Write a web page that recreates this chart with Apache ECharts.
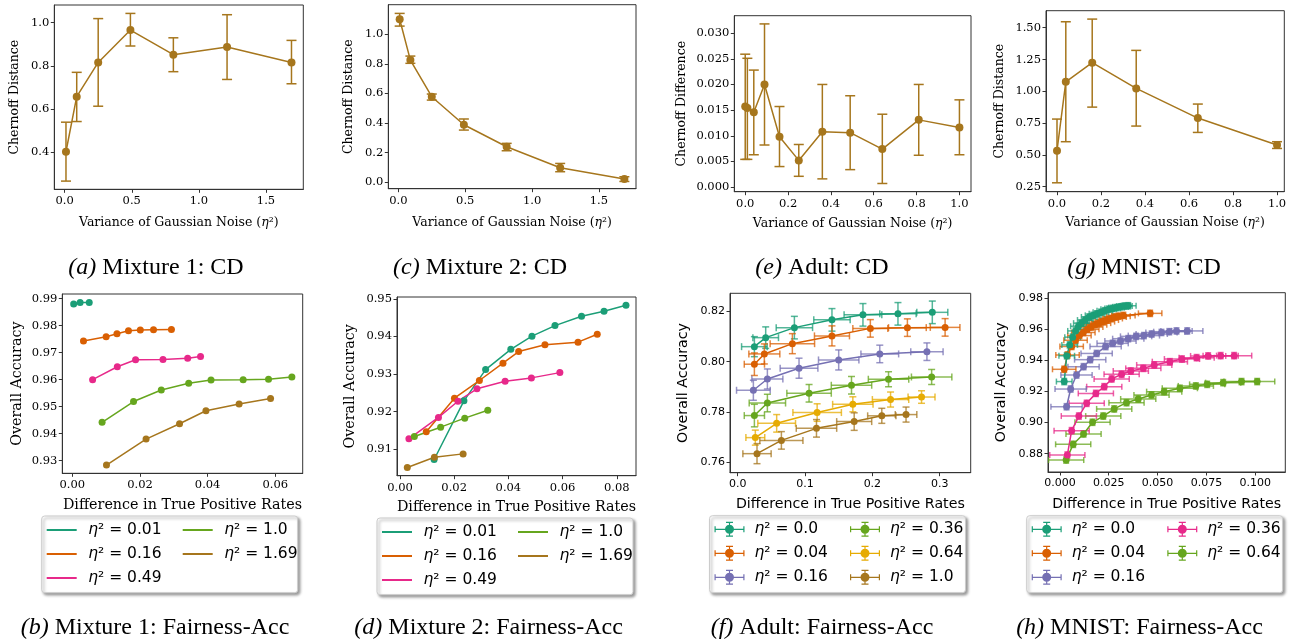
<!DOCTYPE html>
<html>
<head>
<meta charset="utf-8">
<script src="https://cdn.jsdelivr.net/npm/echarts@6/dist/echarts.min.js"></script>
<style>
html, body { margin: 0; padding: 0; background: #fff; }
#main { width: 1293px; height: 643px; }
</style>
</head>
<body>
<div id="main"></div>
<script>
// 颜色 (Dark2)
var TEAL = '#1b9e77', ORANGE = '#d95f02', PURPLE = '#7570b3', PINK = '#e7298a',
    GREEN = '#66a61e', YELLOW = '#e6ab02', BROWN = '#a6761d';

// (a) Mixture 1: CD
var aX = [0.01, 0.09, 0.25, 0.49, 0.81, 1.21, 1.69];
var aY = [0.402, 0.657, 0.816, 0.966, 0.852, 0.887, 0.816];
var aLo = [0.266, 0.542, 0.613, 0.892, 0.773, 0.737, 0.717];
var aHi = [0.539, 0.770, 1.019, 1.043, 0.930, 1.037, 0.918];

// (c) Mixture 2: CD
var cX = [0.01, 0.09, 0.25, 0.49, 0.81, 1.21, 1.69];
var cY = [1.102, 0.826, 0.578, 0.388, 0.239, 0.097, 0.020];
var cLo = [1.056, 0.804, 0.555, 0.352, 0.212, 0.070, 0.004];
var cHi = [1.142, 0.853, 0.596, 0.427, 0.262, 0.126, 0.036];

// (e) Adult: CD
var eX = [0, 0.01, 0.04, 0.09, 0.16, 0.25, 0.36, 0.49, 0.64, 0.81, 1.0];
var eY = [0.0157, 0.0154, 0.0146, 0.0200, 0.0098, 0.0052, 0.0108, 0.0106, 0.0074, 0.0131, 0.0116];
var eLo = [0.0054, 0.0054, 0.0063, 0.0082, 0.0040, 0.0021, 0.0016, 0.0034, 0.0007, 0.0062, 0.0063];
var eHi = [0.0259, 0.0251, 0.0228, 0.0318, 0.0157, 0.0083, 0.0200, 0.0178, 0.0142, 0.0200, 0.0170];

// (g) MNIST: CD
var gX = [0, 0.04, 0.16, 0.36, 0.64, 1.0];
var gY = [0.533, 1.075, 1.225, 1.023, 0.790, 0.578];
var gLo = [0.281, 0.604, 0.876, 0.727, 0.677, 0.551];
var gHi = [0.782, 1.547, 1.568, 1.322, 0.900, 0.604];

// (b) Mixture 1: Fairness-Acc
var bTealX = [0.0004, 0.0023, 0.0050];
var bTealY = [0.9880, 0.9886, 0.9886];
var bOrangeX = [0.0033, 0.0100, 0.0132, 0.0166, 0.0201, 0.0240, 0.0293];
var bOrangeY = [0.9743, 0.9759, 0.9770, 0.9781, 0.9784, 0.9785, 0.9786];
var bPinkX = [0.0060, 0.0133, 0.0187, 0.0268, 0.0341, 0.0379];
var bPinkY = [0.9600, 0.9648, 0.9674, 0.9675, 0.9679, 0.9686];
var bGreenX = [0.0088, 0.0181, 0.0263, 0.0344, 0.0410, 0.0505, 0.0580, 0.0649];
var bGreenY = [0.9442, 0.9519, 0.9562, 0.9587, 0.9599, 0.9600, 0.9602, 0.9610];
var bBrownX = [0.0101, 0.0218, 0.0317, 0.0395, 0.0493, 0.0586];
var bBrownY = [0.9284, 0.9380, 0.9437, 0.9485, 0.9510, 0.9530];

// (d) Mixture 2: Fairness-Acc
var dTealX = [0.0126, 0.0236, 0.0316, 0.0409, 0.0487, 0.0572, 0.0670, 0.0753, 0.0834];
var dTealY = [0.9073, 0.9229, 0.9312, 0.9366, 0.9401, 0.9429, 0.9454, 0.9467, 0.9483];
var dOrangeX = [0.0097, 0.0201, 0.0293, 0.0380, 0.0438, 0.0535, 0.0657, 0.0728];
var dOrangeY = [0.9147, 0.9236, 0.9283, 0.9329, 0.9360, 0.9378, 0.9385, 0.9406];
var dPinkX = [0.0033, 0.0142, 0.0214, 0.0284, 0.0388, 0.0485, 0.0590];
var dPinkY = [0.9128, 0.9185, 0.9228, 0.9261, 0.9281, 0.9290, 0.9304];
var dGreenX = [0.0053, 0.0150, 0.0239, 0.0324];
var dGreenY = [0.9134, 0.9159, 0.9183, 0.9204];
var dBrownX = [0.0027, 0.0127, 0.0233];
var dBrownY = [0.9052, 0.9079, 0.9088];

// (f) Adult: Fairness-Acc  (x, y, x误差, y误差)
var fTealX = [0.0248, 0.0416, 0.0842, 0.140, 0.186, 0.238, 0.289];
var fTealY = [0.8060, 0.8096, 0.8136, 0.8167, 0.8187, 0.8191, 0.8197];
var fTealXe = [0.019, 0.019, 0.027, 0.027, 0.028, 0.027, 0.023];
var fTealYe = [0.0040, 0.0043, 0.0045, 0.0045, 0.0045, 0.0045, 0.0045];
var fOrangeX = [0.0248, 0.0396, 0.0812, 0.140, 0.197, 0.252, 0.308];
var fOrangeY = [0.7990, 0.8031, 0.8072, 0.8103, 0.8133, 0.8136, 0.8137];
var fOrangeXe = [0.015, 0.023, 0.033, 0.026, 0.026, 0.028, 0.022];
var fOrangeYe = [0.0045, 0.0040, 0.0040, 0.0040, 0.0035, 0.0035, 0.0035];
var fPurpleX = [0.0233, 0.0441, 0.0911, 0.150, 0.211, 0.281];
var fPurpleY = [0.7886, 0.7931, 0.7974, 0.8007, 0.8031, 0.8040];
var fPurpleXe = [0.025, 0.023, 0.028, 0.030, 0.028, 0.024];
var fPurpleYe = [0.0040, 0.0040, 0.0040, 0.0040, 0.0035, 0.0035];
var fGreenX = [0.0248, 0.0441, 0.106, 0.169, 0.224, 0.288];
var fGreenY = [0.7785, 0.7835, 0.7874, 0.7906, 0.7930, 0.7939];
var fGreenXe = [0.015, 0.027, 0.033, 0.030, 0.030, 0.030];
var fGreenYe = [0.0045, 0.0035, 0.0035, 0.0035, 0.0030, 0.0030];
var fYellowX = [0.0262, 0.0579, 0.118, 0.171, 0.227, 0.273];
var fYellowY = [0.7697, 0.7754, 0.7797, 0.7830, 0.7849, 0.7859];
var fYellowXe = [0.014, 0.028, 0.036, 0.030, 0.027, 0.020];
var fYellowYe = [0.0030, 0.0035, 0.0035, 0.0030, 0.0030, 0.0025];
var fBrownX = [0.0287, 0.0649, 0.117, 0.173, 0.214, 0.250];
var fBrownY = [0.7633, 0.7686, 0.7734, 0.7761, 0.7784, 0.7789];
var fBrownXe = [0.021, 0.032, 0.030, 0.026, 0.021, 0.016];
var fBrownYe = [0.0040, 0.0035, 0.0035, 0.0035, 0.0030, 0.0030];

// (h) MNIST: Fairness-Acc
var hTealX = [0.0022, 0.0035, 0.005, 0.0065, 0.008, 0.0095, 0.011, 0.013, 0.015, 0.017, 0.019, 0.021, 0.023, 0.025, 0.027, 0.029, 0.031, 0.033, 0.035];
var hTealY = [0.9264, 0.943, 0.950, 0.955, 0.959, 0.962, 0.964, 0.966, 0.968, 0.969, 0.970, 0.971, 0.972, 0.973, 0.9735, 0.974, 0.9745, 0.975, 0.9752];
var hOrangeX = [0.0022, 0.0039, 0.006, 0.008, 0.010, 0.012, 0.014, 0.016, 0.018, 0.020, 0.022, 0.024, 0.026, 0.028, 0.030, 0.0325, 0.0462];
var hOrangeY = [0.9343, 0.9435, 0.949, 0.953, 0.956, 0.958, 0.960, 0.9615, 0.963, 0.964, 0.965, 0.966, 0.967, 0.968, 0.9685, 0.969, 0.9703];
var hPurpleX = [0.0034, 0.0055, 0.0085, 0.0121, 0.0155, 0.0188, 0.0234, 0.027, 0.031, 0.035, 0.039, 0.043, 0.047, 0.052, 0.056, 0.0597, 0.0652];
var hPurpleY = [0.9102, 0.9216, 0.9306, 0.9360, 0.9405, 0.9445, 0.9489, 0.951, 0.9525, 0.954, 0.9555, 0.956, 0.957, 0.958, 0.9585, 0.959, 0.959];
var hPinkX = [0.0038, 0.006, 0.0097, 0.0137, 0.0184, 0.0227, 0.0265, 0.0316, 0.0363, 0.0427, 0.0483, 0.0563, 0.0625, 0.0700, 0.0759, 0.0823, 0.0892];
var hPinkY = [0.8791, 0.8948, 0.9042, 0.9124, 0.9188, 0.9231, 0.9281, 0.9311, 0.9332, 0.9349, 0.9371, 0.9392, 0.9409, 0.9418, 0.9429, 0.9431, 0.9431];
var hGreenX = [0.0032, 0.0068, 0.0121, 0.0167, 0.0222, 0.0278, 0.0341, 0.0401, 0.0469, 0.0534, 0.0614, 0.0696, 0.0754, 0.0836, 0.0930, 0.1010];
var hGreenY = [0.8759, 0.8860, 0.8927, 0.9002, 0.9042, 0.9088, 0.9128, 0.9152, 0.9178, 0.9199, 0.9221, 0.9236, 0.9246, 0.9257, 0.9264, 0.9264];
// 每条曲线的误差半宽 [x, y]
var hErr = { teal: [0.004, 0.002], orange: [0.006, 0.002], purple: [0.008, 0.002], pink: [0.009, 0.002], green: [0.009, 0.002] };

// 刻度
var ticksA = { x: [0, 0.5, 1.0, 1.5], y: [0.4, 0.6, 0.8, 1.0] };
var ticksC = { x: [0, 0.5, 1.0, 1.5], y: [0, 0.2, 0.4, 0.6, 0.8, 1.0] };
var ticksE = { x: [0, 0.2, 0.4, 0.6, 0.8, 1.0], y: [0, 0.005, 0.010, 0.015, 0.020, 0.025, 0.030] };
var ticksG = { x: [0, 0.2, 0.4, 0.6, 0.8, 1.0], y: [0.25, 0.50, 0.75, 1.00, 1.25, 1.50] };
var ticksB = { x: [0, 0.02, 0.04, 0.06], y: [0.93, 0.94, 0.95, 0.96, 0.97, 0.98, 0.99] };
var ticksD = { x: [0, 0.02, 0.04, 0.06, 0.08], y: [0.91, 0.92, 0.93, 0.94, 0.95] };
var ticksF = { x: [0, 0.1, 0.2, 0.3], y: [0.76, 0.78, 0.80, 0.82] };
var ticksH = { x: [0, 0.025, 0.050, 0.075, 0.100], y: [0.88, 0.90, 0.92, 0.94, 0.96, 0.98] };

var SERIF = 'DejaVu Serif', SANS = 'DejaVu Sans';

function zip() {
  var cols = Array.prototype.slice.call(arguments);
  return cols[0].map(function (_, i) { return cols.map(function (c) { return c[i]; }); });
}

function mkAxis(idx, min, max, ticks, dec, name, nameGap, font, labelSize, nameSize, margin) {
  return {
    gridIndex: idx, type: 'value', min: min, max: max,
    name: name, nameLocation: 'middle', nameGap: nameGap,
    nameTextStyle: { fontFamily: font, fontSize: nameSize, color: '#000',
      rich: { e: { fontStyle: 'italic', fontFamily: font, fontSize: nameSize, color: '#000' } } },
    axisLine: { show: true, onZero: false, lineStyle: { color: '#333', width: 1 } },
    axisTick: { show: true, length: 3.5, customValues: ticks, lineStyle: { color: '#333', width: 1 } },
    axisLabel: { customValues: ticks, margin: margin, fontFamily: font, fontSize: labelSize, color: '#000',
      formatter: function (v) { return v.toFixed(dec); } },
    splitLine: { show: false }
  };
}

function lineSeries(idx, name, xs, ys, color, size) {
  return {
    type: 'line', name: name, xAxisIndex: idx, yAxisIndex: idx,
    data: zip(xs, ys), symbol: 'circle', symbolSize: size || 7,
    itemStyle: { color: color }, lineStyle: { color: color, width: 1.5 },
    z: 3, animation: false
  };
}

// 竖直误差棒
function vErrSeries(idx, xs, lo, hi, color, cap) {
  return {
    type: 'custom', xAxisIndex: idx, yAxisIndex: idx, silent: true, z: 2,
    data: zip(xs, lo, hi), encode: { x: 0, y: [1, 2] },
    renderItem: function (params, api) {
      var x = api.value(0);
      var p0 = api.coord([x, api.value(1)]), p1 = api.coord([x, api.value(2)]);
      var st = { stroke: color, lineWidth: 1.5 };
      return { type: 'group', children: [
        { type: 'line', shape: { x1: p0[0], y1: p0[1], x2: p1[0], y2: p1[1] }, style: st },
        { type: 'line', shape: { x1: p0[0] - cap, y1: p0[1], x2: p0[0] + cap, y2: p0[1] }, style: st },
        { type: 'line', shape: { x1: p1[0] - cap, y1: p1[1], x2: p1[0] + cap, y2: p1[1] }, style: st }
      ] };
    }
  };
}

// 双向误差棒
function xyErrSeries(idx, data, color, cap) {
  return {
    type: 'custom', xAxisIndex: idx, yAxisIndex: idx, silent: true, z: 2,
    data: data, encode: { x: 0, y: 1 },
    renderItem: function (params, api) {
      var x = api.value(0), y = api.value(1), dx = api.value(2), dy = api.value(3);
      var l = api.coord([x - dx, y]), r = api.coord([x + dx, y]);
      var b = api.coord([x, y - dy]), t = api.coord([x, y + dy]);
      var st = { stroke: color, lineWidth: 1.5, opacity: 0.75 };
      return { type: 'group', children: [
        { type: 'line', shape: { x1: l[0], y1: l[1], x2: r[0], y2: r[1] }, style: st },
        { type: 'line', shape: { x1: l[0], y1: l[1] - cap, x2: l[0], y2: l[1] + cap }, style: st },
        { type: 'line', shape: { x1: r[0], y1: r[1] - cap, x2: r[0], y2: r[1] + cap }, style: st },
        { type: 'line', shape: { x1: b[0], y1: b[1], x2: t[0], y2: t[1] }, style: st },
        { type: 'line', shape: { x1: b[0] - cap, y1: b[1], x2: b[0] + cap, y2: b[1] }, style: st },
        { type: 'line', shape: { x1: t[0] - cap, y1: t[1], x2: t[0] + cap, y2: t[1] }, style: st }
      ] };
    }
  };
}

function hData(xs, ys, err) {
  return xs.map(function (x, i) { return [x, ys[i], err[0], err[1]]; });
}

// 图例中误差棒样式的图标
var ERR_ICON = 'path://M0,6.9H30V8.1H0Z M0,4.5H1.2V10.5H0Z M28.8,4.5H30V10.5H28.8Z M14.4,0H15.6V15H14.4Z M11.5,0H18.5V1.2H11.5Z M11.5,13.8H18.5V15H11.5Z M10.5,7.5A4.5,4.5,0,1,1,19.5,7.5A4.5,4.5,0,1,1,10.5,7.5Z';

function mkLegend(names, left, top, icon, iw, ih, pad) {
  var fs = 15.5, lh = 17;
  return {
    orient: 'vertical', left: left, top: top, data: names, padding: 0,
    icon: icon, itemWidth: iw, itemHeight: ih, itemGap: 7, selectedMode: false, z: 5,
    formatter: function (n) { return '{e|η}{t|² = ' + n.split('|')[1] + '}'; },
    textStyle: { color: '#000', fontFamily: SANS, fontSize: fs, lineHeight: lh, padding: [0, 0, 0, pad],
      rich: { e: { fontStyle: 'italic', fontFamily: SANS, fontSize: fs, lineHeight: lh, color: '#000' },
              t: { fontFamily: SANS, fontSize: fs, lineHeight: lh, color: '#000' } } }
  };
}

function legendBox(x, y, w, h) {
  return { type: 'rect', z: 1, shape: { x: x, y: y, width: w, height: h, r: 3 },
    style: { fill: '#fff', stroke: '#cccccc', lineWidth: 1, shadowBlur: 3, shadowColor: 'rgba(0,0,0,0.4)', shadowOffsetX: 2, shadowOffsetY: 2 } };
}

function caption(x, y, tag, text) {
  return { type: 'text', x: x, y: y, z: 10,
    style: { text: '{i|' + tag + '} ' + text, align: 'center', verticalAlign: 'middle',
      fontFamily: 'Liberation Serif', fontSize: 24, fill: '#000',
      rich: { i: { fontStyle: 'italic', fontFamily: 'Liberation Serif', fontSize: 24, fill: '#000' } } } };
}

var VAR = 'Variance of Gaussian Noise ({e|η}²)';
var DIFF = 'Difference in True Positive Rates';

var option = {
  animation: false,
  backgroundColor: '#fff',
  grid: [
    { left: 54.3, top: 5, width: 249, height: 184.3 },
    { left: 388.3, top: 4.7, width: 247.7, height: 184 },
    { left: 734.3, top: 15.7, width: 236.7, height: 176 },
    { left: 1046, top: 10.7, width: 238.3, height: 181 },
    { left: 62.3, top: 294, width: 240.4, height: 179.3 },
    { left: 397, top: 297, width: 239, height: 178.7 },
    { left: 730, top: 293.3, width: 240.7, height: 179.4 },
    { left: 1048, top: 292.7, width: 237.3, height: 179.3 }
  ].map(function (g) {
    g.show = true; g.borderColor = '#333'; g.borderWidth = 1; g.backgroundColor = 'transparent';
    return g;
  }),
  xAxis: [
    mkAxis(0, -0.077, 1.778, ticksA.x, 1, VAR, 27, SERIF, 11.5, 12.5, 6),
    mkAxis(1, -0.075, 1.777, ticksC.x, 1, VAR, 28, SERIF, 11.5, 12.5, 6),
    mkAxis(2, -0.051, 1.054, ticksE.x, 1, VAR, 26, SERIF, 11.5, 12.5, 6),
    mkAxis(3, -0.05, 1.033, ticksG.x, 1, VAR, 24.5, SERIF, 11.5, 12.5, 6),
    mkAxis(4, -0.00296, 0.0681, ticksB.x, 2, DIFF, 25, SERIF, 11.5, 14.3, 6),
    mkAxis(5, -0.0011, 0.0871, ticksD.x, 2, DIFF, 24.5, SERIF, 11.5, 14.3, 6),
    mkAxis(6, -0.0114, 0.346, ticksF.x, 1, DIFF, 24.5, SANS, 11, 14.2, 6),
    mkAxis(7, -0.0061, 0.1154, ticksH.x, 3, DIFF, 25.5, SANS, 11, 14.2, 6)
  ],
  yAxis: [
    mkAxis(0, 0.228, 1.082, ticksA.y, 1, 'Chernoff Distance', 33, SERIF, 11.5, 12.5, 5),
    mkAxis(1, -0.045, 1.2009, ticksC.y, 1, 'Chernoff Distance', 33.5, SERIF, 11.5, 12.5, 5),
    mkAxis(2, -0.0009, 0.0334, ticksE.y, 3, 'Chernoff Difference', 46, SERIF, 11.5, 12.5, 5),
    mkAxis(3, 0.211, 1.634, ticksG.y, 2, 'Chernoff Distance', 40, SERIF, 11.5, 12.5, 5),
    mkAxis(4, 0.92533, 0.99174, ticksB.y, 2, 'Overall Accuracy', 38, SERIF, 11.5, 14.3, 5),
    mkAxis(5, 0.9030, 0.9505, ticksD.y, 2, 'Overall Accuracy', 40, SERIF, 11.5, 14.3, 5),
    mkAxis(6, 0.7557, 0.8273, ticksF.y, 2, 'Overall Accuracy', 39.5, SANS, 11, 14.2, 5),
    mkAxis(7, 0.8682, 0.9836, ticksH.y, 2, 'Overall Accuracy', 39.5, SANS, 11, 14.2, 5)
  ],
  legend: [
    mkLegend(['b|0.01', 'b|0.16', 'b|0.49'], 46.7, 521.5, 'rect', 30, 2, 6.5),
    mkLegend(['b|1.0', 'b|1.69'], 182.7, 521.5, 'rect', 30, 2, 6.5),
    mkLegend(['d|0.01', 'd|0.16', 'd|0.49'], 382, 523.5, 'rect', 30, 2, 6.5),
    mkLegend(['d|1.0', 'd|1.69'], 518, 523.5, 'rect', 30, 2, 6.5),
    mkLegend(['f|0.0', 'f|0.04', 'f|0.16'], 714.5, 520.8, ERR_ICON, 30, 15, 5),
    mkLegend(['f|0.36', 'f|0.64', 'f|1.0'], 850, 520.8, ERR_ICON, 30, 15, 5),
    mkLegend(['h|0.0', 'h|0.04', 'h|0.16'], 1031.7, 520.8, ERR_ICON, 30, 15, 5),
    mkLegend(['h|0.36', 'h|0.64'], 1167.3, 520.8, ERR_ICON, 30, 15, 5)
  ],
  graphic: [
    legendBox(41.7, 516, 256, 76.7),
    legendBox(377, 518, 256, 76.7),
    legendBox(709.5, 515.7, 256, 77),
    legendBox(1026.7, 515.7, 256, 77),
    caption(156, 268, '(a)', 'Mixture 1: CD'),
    caption(480, 268, '(c)', 'Mixture 2: CD'),
    caption(822, 268, '(e)', 'Adult: CD'),
    caption(1144, 268, '(g)', 'MNIST: CD'),
    caption(155, 627.7, '(b)', 'Mixture 1: Fairness-Acc'),
    caption(488.6, 627.7, '(d)', 'Mixture 2: Fairness-Acc'),
    caption(822, 627.7, '(f)', 'Adult: Fairness-Acc'),
    caption(1139.5, 627.7, '(h)', 'MNIST: Fairness-Acc')
  ],
  series: [
    // 上排：Chernoff
    vErrSeries(0, aX, aLo, aHi, BROWN, 5),
    lineSeries(0, 'a', aX, aY, BROWN, 8),
    vErrSeries(1, cX, cLo, cHi, BROWN, 5),
    lineSeries(1, 'c', cX, cY, BROWN, 8),
    vErrSeries(2, eX, eLo, eHi, BROWN, 5),
    lineSeries(2, 'e', eX, eY, BROWN, 8),
    vErrSeries(3, gX, gLo, gHi, BROWN, 5),
    lineSeries(3, 'g', gX, gY, BROWN, 8),
    // (b)
    lineSeries(4, 'b|0.01', bTealX, bTealY, TEAL),
    lineSeries(4, 'b|0.16', bOrangeX, bOrangeY, ORANGE),
    lineSeries(4, 'b|0.49', bPinkX, bPinkY, PINK),
    lineSeries(4, 'b|1.0', bGreenX, bGreenY, GREEN),
    lineSeries(4, 'b|1.69', bBrownX, bBrownY, BROWN),
    // (d)
    lineSeries(5, 'd|0.01', dTealX, dTealY, TEAL),
    lineSeries(5, 'd|0.16', dOrangeX, dOrangeY, ORANGE),
    lineSeries(5, 'd|0.49', dPinkX, dPinkY, PINK),
    lineSeries(5, 'd|1.0', dGreenX, dGreenY, GREEN),
    lineSeries(5, 'd|1.69', dBrownX, dBrownY, BROWN),
    // (f)
    xyErrSeries(6, zip(fTealX, fTealY, fTealXe, fTealYe), TEAL, 3.5),
    lineSeries(6, 'f|0.0', fTealX, fTealY, TEAL),
    xyErrSeries(6, zip(fOrangeX, fOrangeY, fOrangeXe, fOrangeYe), ORANGE, 3.5),
    lineSeries(6, 'f|0.04', fOrangeX, fOrangeY, ORANGE),
    xyErrSeries(6, zip(fPurpleX, fPurpleY, fPurpleXe, fPurpleYe), PURPLE, 3.5),
    lineSeries(6, 'f|0.16', fPurpleX, fPurpleY, PURPLE),
    xyErrSeries(6, zip(fGreenX, fGreenY, fGreenXe, fGreenYe), GREEN, 3.5),
    lineSeries(6, 'f|0.36', fGreenX, fGreenY, GREEN),
    xyErrSeries(6, zip(fYellowX, fYellowY, fYellowXe, fYellowYe), YELLOW, 3.5),
    lineSeries(6, 'f|0.64', fYellowX, fYellowY, YELLOW),
    xyErrSeries(6, zip(fBrownX, fBrownY, fBrownXe, fBrownYe), BROWN, 3.5),
    lineSeries(6, 'f|1.0', fBrownX, fBrownY, BROWN),
    // (h)
    xyErrSeries(7, hData(hGreenX, hGreenY, hErr.green), GREEN, 3),
    lineSeries(7, 'h|0.64', hGreenX, hGreenY, GREEN),
    xyErrSeries(7, hData(hPinkX, hPinkY, hErr.pink), PINK, 3),
    lineSeries(7, 'h|0.36', hPinkX, hPinkY, PINK),
    xyErrSeries(7, hData(hPurpleX, hPurpleY, hErr.purple), PURPLE, 3),
    lineSeries(7, 'h|0.16', hPurpleX, hPurpleY, PURPLE),
    xyErrSeries(7, hData(hOrangeX, hOrangeY, hErr.orange), ORANGE, 3),
    lineSeries(7, 'h|0.04', hOrangeX, hOrangeY, ORANGE),
    xyErrSeries(7, hData(hTealX, hTealY, hErr.teal), TEAL, 3),
    lineSeries(7, 'h|0.0', hTealX, hTealY, TEAL)
  ]
};

var myChart = echarts.init(document.getElementById('main'));
myChart.setOption(option);
window.addEventListener('resize', function () { myChart.resize(); }, false);
</script>
</body>
</html>
